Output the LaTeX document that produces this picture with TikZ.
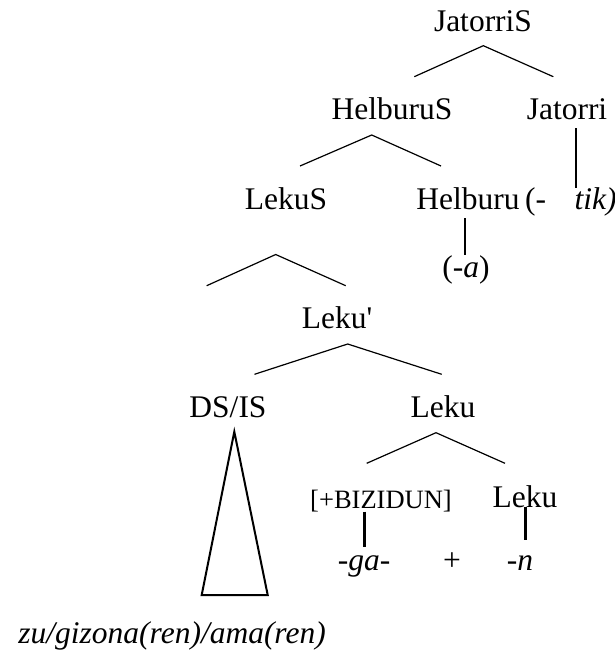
\documentclass[tikz,border=0pt]{standalone}
\usepackage{fontspec}
\setmainfont{Liberation Serif}
\begin{document}
\begin{tikzpicture}[x=1pt,y=-1pt,
  lbl/.style={inner sep=0pt,anchor=base,font=\fontsize{31.5}{36}\selectfont},
  feat/.style={inner sep=0pt,anchor=base,font=\fontsize{26.5}{30}\selectfont},
  roof/.style={line width=1.2pt},
  stem/.style={line width=2.2pt},
  tri/.style={line width=2pt,line join=miter}]
\useasboundingbox (0,0) rectangle (615,653);

% category labels
\node[lbl] (js)  at (483,31)  {JatorriS};
\node[lbl] (hs)  at (392,119) {HelburuS};
\node[lbl] (jat) at (567,119) {Jatorri};
\node[lbl] (ls)  at (286,209) {LekuS};
\node[lbl] (hel) at (468,209) {Helburu};
\node[lbl,anchor=base west] (tik) at (525,209) {(-\hspace{0.9em}\textit{tik)}};
\node[lbl] (a)   at (466,277) {(-\textit{a})};
\node[lbl] (lb)  at (337,328) {Leku\textquotesingle};
\node[lbl] (ds)  at (228,417) {DS/IS};
\node[lbl] (lk)  at (443,417) {Leku};
\node[feat] (biz) at (381,508) {[+BIZIDUN]};
\node[lbl] (lk2) at (525,507) {Leku};
\node[lbl] (ga)  at (364,570) {\textit{-ga-}};
\node[lbl] (pl)  at (452,570) {+};
\node[lbl] (n)   at (520,570) {\textit{-n}};
\node[lbl,anchor=base east] (words) at (326,643) {\textit{zu/gizona(ren)/ama(ren)}};

% branching roofs
\coordinate (jsA) at (483.3,45.7);
\coordinate (jsL) at (414.3,76.7);
\coordinate (jsR) at (553.3,76.7);
\draw[roof] (jsL) -- (jsA) -- (jsR);

\coordinate (hsA) at (371.7,135);
\coordinate (hsL) at (300,166);
\coordinate (hsR) at (441,166);
\draw[roof] (hsL) -- (hsA) -- (hsR);

\coordinate (lsA) at (275.7,254.5);
\coordinate (lsL) at (206.7,285.7);
\coordinate (lsR) at (345.7,285.7);
\draw[roof] (lsL) -- (lsA) -- (lsR);

\coordinate (lbA) at (347.7,344);
\coordinate (lbL) at (254.5,374.3);
\coordinate (lbR) at (441.7,374.3);
\draw[roof] (lbL) -- (lbA) -- (lbR);

\coordinate (lkA) at (436,432.7);
\coordinate (lkL) at (366.7,463.3);
\coordinate (lkR) at (505,463.3);
\draw[roof] (lkL) -- (lkA) -- (lkR);

% unary stems
\coordinate (jatT) at (575.7,128);
\coordinate (jatB) at (575.7,188);
\draw[stem] (jatT) -- (jatB);

\coordinate (helT) at (465,218);
\coordinate (helB) at (465,255);
\draw[stem] (helT) -- (helB);

\coordinate (bizT) at (364.5,511.7);
\coordinate (bizB) at (364.5,546.7);
\draw[stem] (bizT) -- (bizB);

\coordinate (lk2T) at (525.5,506.5);
\coordinate (lk2B) at (525.5,540);
\draw[stem] (lk2T) -- (lk2B);

% collapsed constituent under DS/IS
\coordinate (triA) at (234.3,431.7);
\coordinate (triL) at (201.7,595);
\coordinate (triR) at (267.7,595);
\draw[tri] (triA) -- (triL) -- (triR) -- cycle;
\end{tikzpicture}
\end{document}
